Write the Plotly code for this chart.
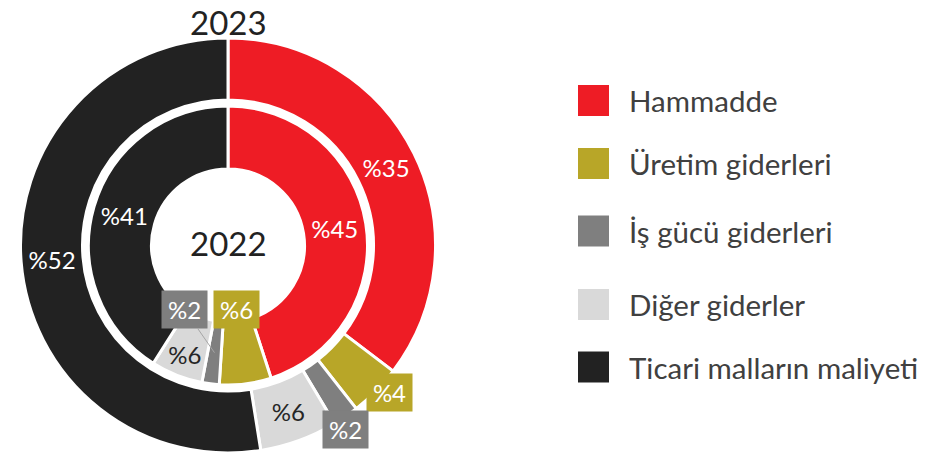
import math
import plotly.graph_objects as go

# ---------------- data ----------------
categories = ["Hammadde", "Üretim giderleri", "İş gücü giderleri",
              "Diğer giderler", "Ticari malların maliyeti"]
values_2023 = [35, 4, 2, 6, 52]
values_2022 = [45, 6, 2, 6, 41]
year_outer = "2023"
year_inner = "2022"

# ---------------- style ----------------
colors = ["#EE1C25", "#B8A628", "#7F7F7F", "#D9D9D9", "#222222"]
text_colors = ["#FFFFFF", "#FFFFFF", "#FFFFFF", "#262626", "#FFFFFF"]
boxed = [False, True, True, False, False]   # small slices get a coloured label box
FONT = "Lato"
LBL = 24
W, H = 930, 458
CX, CY = 228, 245.5            # donut centre (px)
LINE_W = 3
R_OUT, H_OUT = 207.5, 145.5    # outer ring radius / hole radius (px)
R_IN, H_IN = 139.5, 76.5       # inner ring radius / hole radius (px)


def domain(r):
    return dict(x=[(CX - r) / W, (CX + r) / W],
                y=[1 - (CY + r) / H, 1 - (CY - r) / H])


def polar(angle_deg, r):
    a = math.radians(angle_deg)
    return (CX + r * math.sin(a)) / W, 1 - (CY - r * math.cos(a)) / H


def mid_angles(vals):
    tot = sum(vals)
    out, cum = [], 0
    for v in vals:
        out.append((cum + v / 2) / tot * 360)
        cum += v
    return out


def pie(vals, r, hole_r):
    return go.Pie(
        labels=categories, values=vals, sort=False, direction="clockwise",
        rotation=0, hole=hole_r / r, domain=domain(r),
        marker=dict(colors=colors, line=dict(color="white", width=LINE_W)),
        texttemplate=["" if b else "%" + str(v) for v, b in zip(vals, boxed)],
        textposition="inside", insidetextorientation="horizontal",
        textfont=dict(family=FONT, size=LBL, color=text_colors),
        hoverinfo="label+value", showlegend=False,
    )


fig = go.Figure([pie(values_2023, R_OUT, H_OUT), pie(values_2022, R_IN, H_IN)])

annotations = []


def box_label(text, color, pos, target=None):
    x, y = pos
    d = dict(text=text, xref="paper", yref="paper", x=x, y=y,
             showarrow=False, bgcolor=color, width=45, height=37,
             borderpad=0, font=dict(family=FONT, size=LBL, color="white"),
             xanchor="center", yanchor="middle", align="center")
    if target is not None:
        tx, ty = target
        d.update(x=tx, y=ty, showarrow=True, arrowhead=0, arrowwidth=1,
                 arrowcolor="#A6A6A6", standoff=0,
                 ax=(x - tx) * W, ay=-(y - ty) * H)
    annotations.append(d)


# outer ring small-slice labels (outside the ring, near the slice bisector)
ang_o = mid_angles(values_2023)
box_shift = [0, -2.2, 2.0, 0, 0]   # small angular nudges of the label boxes
for i, v in enumerate(values_2023):
    if boxed[i]:
        box_label("%" + str(v), colors[i], polar(ang_o[i] + box_shift[i], 218))

# inner ring small-slice labels
ang_i = mid_angles(values_2022)
box_label("%" + str(values_2022[1]), colors[1], polar(ang_i[1], 65))
box_label("%" + str(values_2022[2]), colors[2], polar(214.2, 77.4),
          target=polar(ang_i[2], (R_IN + H_IN) / 2))

# titles
annotations.append(dict(text=year_outer, xref="paper", yref="paper",
                        x=CX / W, y=1, showarrow=False,
                        font=dict(family=FONT, size=33, color="#222222"),
                        xanchor="center", yanchor="top"))
annotations.append(dict(text=year_inner, xref="paper", yref="paper",
                        x=CX / W, y=1 - 243 / H, showarrow=False,
                        font=dict(family=FONT, size=33, color="#222222"),
                        xanchor="center", yanchor="middle"))

# custom legend (large square swatches)
legend_y = [100.5, 163.5, 231, 304.5, 367]
SW = 31
shapes = []
for name, col, ly in zip(categories, colors, legend_y):
    shapes.append(dict(type="rect", xref="paper", yref="paper",
                       x0=578 / W, x1=(578 + SW) / W,
                       y0=1 - (ly + SW / 2) / H, y1=1 - (ly - SW / 2) / H,
                       fillcolor=col, line=dict(width=0)))
    annotations.append(dict(text=name, xref="paper", yref="paper",
                            x=627 / W, y=1 - ly / H, showarrow=False,
                            font=dict(family=FONT, size=29.5, color="#404040"),
                            xanchor="left", yanchor="middle"))

fig.update_layout(
    width=W, height=H, margin=dict(l=0, r=0, t=0, b=0),
    paper_bgcolor="white", plot_bgcolor="white",
    showlegend=False, annotations=annotations, shapes=shapes,
    uniformtext=dict(minsize=LBL, mode="show"),
)

fig.write_html(
    "out.html",
    config={"displayModeBar": False},
    post_script="document.body.style.margin='0';document.body.style.overflow='hidden';",
)
